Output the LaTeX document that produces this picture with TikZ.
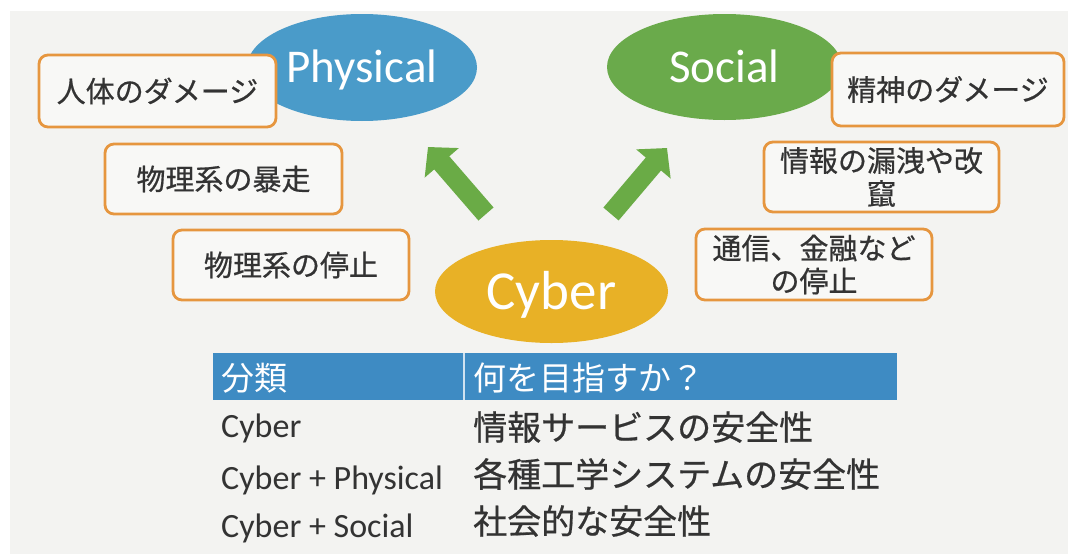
\documentclass[tikz,border=0pt]{standalone}
\usepackage{fontspec}
\setmainfont{Carlito}
\newfontfamily\jp{Noto Sans CJK JP}
\newfontfamily\jpm{Noto Sans CJK JP}[FakeBold=0.6]
\usetikzlibrary{arrows.meta,shapes.geometric}
\definecolor{paper}{HTML}{F3F3F1}
\definecolor{boxfill}{HTML}{F8F8F6}
\definecolor{pblue}{HTML}{4A9BC9}
\definecolor{hblue}{HTML}{3E8BC3}
\definecolor{sgreen}{HTML}{6AAA4B}
\definecolor{agreen}{HTML}{6AAB46}
\definecolor{cyellow}{HTML}{E8B126}
\definecolor{borange}{HTML}{E6963F}
\definecolor{ink}{HTML}{333333}
\begin{document}
\begin{tikzpicture}[x=1pt,y=-1pt,
  bubble/.style={ellipse, inner sep=0pt, text=white, text depth=0.2em},
  effbox/.style={draw=borange, line width=2.8pt, rounded corners=9pt, fill=boxfill, text=ink, align=center, inner sep=0pt, font=\jpm\fontsize{29}{33}\selectfont},
  bigarrow/.style={draw=agreen, line width=20pt, -{Triangle[length=21pt,width=44pt]}},
  cell/.style={anchor=base west, inner sep=0pt, text=ink},
  latcell/.style={cell, font=\fontsize{34}{38}\selectfont},
  jpcell/.style={cell, font=\jpm\fontsize{34}{38}\selectfont},
]
\useasboundingbox (0,0) rectangle (1068,554);
\fill[white] (0,0) rectangle (1068,554);
\fill[paper] (10,11) rectangle (1068,554);

% ellipses
\node[bubble, fill=pblue, minimum width=230pt, minimum height=107pt, font=\fontsize{47}{50}\selectfont] (phys) at (362,67.5) {Physical};
\node[bubble, fill=sgreen, minimum width=235pt, minimum height=106pt, font=\fontsize{47}{50}\selectfont] (soc) at (724.5,67) {Social};
\node[bubble, fill=cyellow, minimum width=233pt, minimum height=103pt, font=\fontsize{55}{58}\selectfont] (cyb) at (551.5,291.5) {Cyber};

% effect boxes
\node[effbox, minimum width=237pt, minimum height=72pt] (b1) at (157.5,91) {人体のダメージ};
\node[effbox, minimum width=237pt, minimum height=70pt] (b2) at (223.5,179) {物理系の暴走};
\node[effbox, minimum width=236pt, minimum height=70pt] (b3) at (291,265) {物理系の停止};
\node[effbox, minimum width=232pt, minimum height=73pt] (b4) at (948,89.5) {精神のダメージ};
\node[effbox, minimum width=235pt, minimum height=70pt] (b5) at (881.5,177) {情報の漏洩や改\\竄};
\node[effbox, minimum width=236pt, minimum height=71pt] (b6) at (814,264.5) {通信、金融など\\の停止};

% arrows
\coordinate (latail) at (486,214);
\coordinate (latip) at (428,147);
\coordinate (ratail) at (611,214);
\coordinate (ratip) at (667,148);
\draw[bigarrow] (latail) -- (latip);
\draw[bigarrow] (ratail) -- (ratip);

% table
\node[fill=hblue, minimum width=684pt, minimum height=47pt, inner sep=0pt, anchor=north west] (head) at (213,353) {};
\draw[white!75!hblue, line width=1.2pt] ([xshift=251pt]head.north west) -- ([xshift=251pt]head.south west);
\node[cell, text=white, font=\jp\fontsize{33}{36}\selectfont] (h1) at (221,390) {分類};
\node[cell, text=white, font=\jp\fontsize{33}{36}\selectfont] (h2) at (473,390) {何を目指すか？};

\node[latcell] (r1a) at (221,437) {Cyber};
\node[latcell] (r2a) at (221,489) {Cyber + Physical};
\node[latcell] (r3a) at (221,537) {Cyber + Social};
\node[jpcell] (r1b) at (473,440) {情報サービスの安全性};
\node[jpcell] (r2b) at (473,487) {各種工学システムの安全性};
\node[jpcell] (r3b) at (473,534) {社会的な安全性};
\end{tikzpicture}
\end{document}
